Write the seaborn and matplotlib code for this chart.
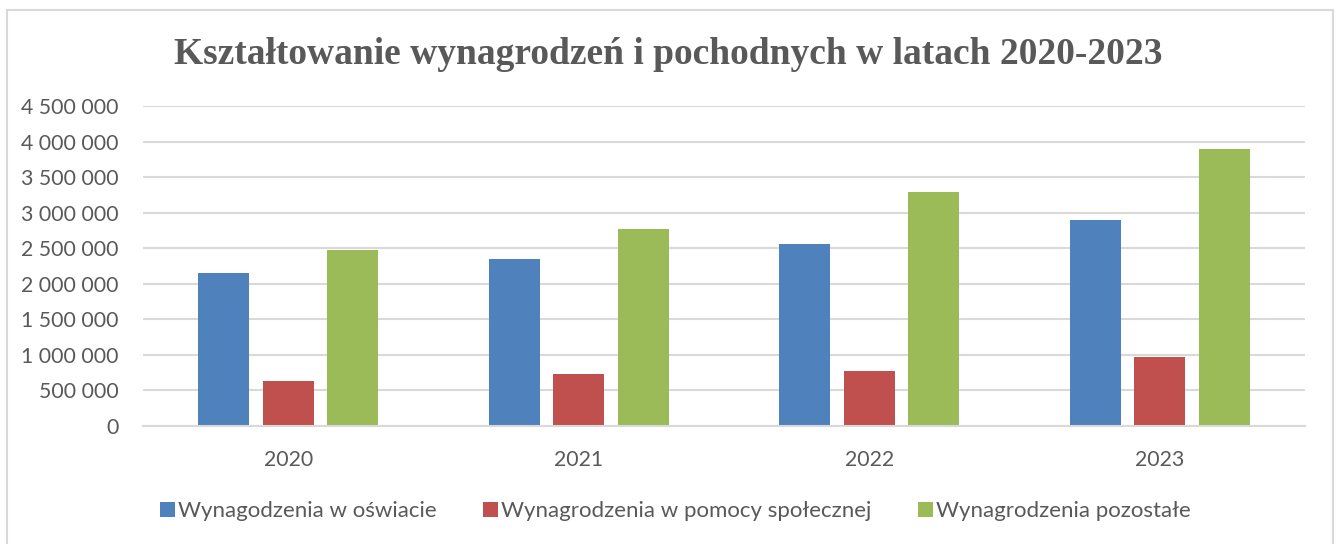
import matplotlib
matplotlib.use("Agg")
import matplotlib.pyplot as plt
import matplotlib.patches as mpatches
from matplotlib.ticker import FuncFormatter
import seaborn as sns
import pandas as pd

years = ["2020", "2021", "2022", "2023"]
series_names = ["Wynagodzenia w oświacie",
                "Wynagrodzenia w pomocy społecznej",
                "Wynagrodzenia pozostałe"]
oswiata = [2150000, 2350000, 2560000, 2890000]
pomoc = [630000, 735000, 770000, 965000]
pozostale = [2470000, 2775000, 3295000, 3890000]
colors = ["#4F81BD", "#C0504D", "#9BBB59"]
yticks = [0, 500000, 1000000, 1500000, 2000000, 2500000, 3000000, 3500000, 4000000, 4500000]
title = "Kształtowanie wynagrodzeń i pochodnych w latach 2020-2023"

rows = []
for name, vals in zip(series_names, [oswiata, pomoc, pozostale]):
    for y, v in zip(years, vals):
        rows.append({"Rok": y, "Seria": name, "Wartość": v})
df = pd.DataFrame(rows)

sns.set_theme(style="white")
plt.rcParams["font.family"] = ["Lato", "DejaVu Sans"]

fig = plt.figure(figsize=(13.36, 5.44), dpi=100)
ax = fig.add_axes([143/1336, 1-426/544, (1305-143)/1336, (426-106)/544])

sns.barplot(data=df, x="Rok", y="Wartość", hue="Seria", order=years,
            hue_order=series_names, palette=colors, width=0.666, gap=0.21,
            saturation=1, ax=ax, legend=False, edgecolor="none")

ax.set_ylim(0, 4500000)
ax.set_xlim(-0.5, 3.5)
ax.set_yticks(yticks)
ax.yaxis.set_major_formatter(FuncFormatter(lambda v, p: f"{int(v):,}".replace(",", " ")))
ax.grid(axis="y", color="#D9D9D9", linewidth=1.5)
ax.set_axisbelow(True)
for s in ["left", "right", "top"]:
    ax.spines[s].set_visible(False)
ax.spines["bottom"].set_color("#D9D9D9")
ax.spines["bottom"].set_linewidth(1.5)
ax.tick_params(axis="both", length=0, labelsize=15.3, colors="#595959")
ax.tick_params(axis="y", pad=17.5)
ax.tick_params(axis="x", pad=17)
ax.set_xlabel("")
ax.set_ylabel("")

fig.text(0.5, 1-64/544, title, ha="center", va="baseline",
         fontsize=27, fontweight="bold", color="#595959",
         family=["Liberation Serif", "DejaVu Serif"])

handles = [mpatches.Patch(facecolor=c, edgecolor="none") for c in colors]
leg = fig.legend(handles, series_names, loc="center", bbox_to_anchor=(0.5056, 1-511/544),
                 ncol=3, frameon=False, fontsize=16, handlelength=0.65, handleheight=0.65,
                 handletextpad=0.15, columnspacing=2.1)
for t in leg.get_texts():
    t.set_color("#595959")

fig.patches.append(mpatches.Rectangle((7/1336, -0.01), (1333-7)/1336, 1-9.5/544+0.01,
                                      transform=fig.transFigure, fill=False,
                                      edgecolor="#D9D9D9", linewidth=1.5))

fig.savefig("out.png", dpi=100, facecolor="white")
